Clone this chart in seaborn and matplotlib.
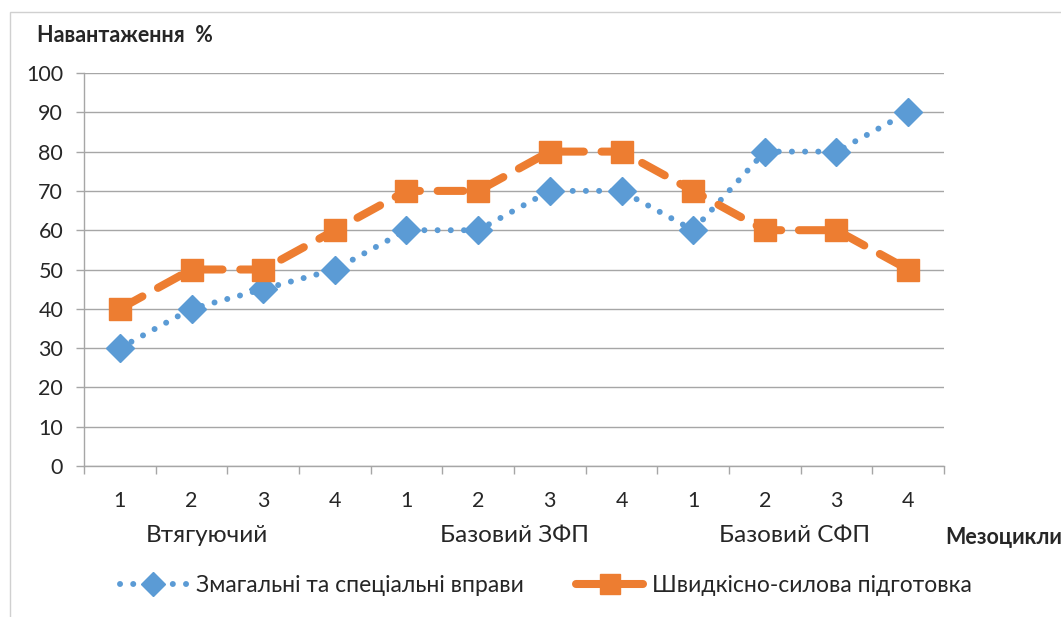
import matplotlib
matplotlib.use("Agg")
import matplotlib.pyplot as plt
import seaborn as sns
import pandas as pd
import numpy as np
from matplotlib.lines import Line2D
from matplotlib.patches import Rectangle

categories = ["1", "2", "3", "4", "1", "2", "3", "4", "1", "2", "3", "4"]
groups = ["Втягуючий", "Базовий ЗФП", "Базовий СФП"]
series_names = ["Змагальні та спеціальні вправи", "Швидкісно-силова підготовка"]
general_special = [30, 40, 45, 50, 60, 60, 70, 70, 60, 80, 80, 90]
speed_strength = [40, 50, 50, 60, 70, 70, 80, 80, 70, 60, 60, 50]
y_ticks = [0, 10, 20, 30, 40, 50, 60, 70, 80, 90, 100]

sns.set_theme(style="white")
plt.rcParams['font.family'] = ['Lato', 'DejaVu Sans']

BLUE = "#5B9BD5"
ORANGE = "#ED7D31"
GRID = "#A6A6A6"

W, H = 1061, 617
fig = plt.figure(figsize=(W / 100, H / 100), dpi=100)
ax = fig.add_axes([84 / W, (H - 466) / H, 860 / W, (466 - 73) / H])

# chart border (partly visible)
fig.patches.append(Rectangle((10 / W, -0.2), 1.2, 1.2 - 12 / H,
                             transform=fig.transFigure, fill=False,
                             edgecolor="#D0D0D0", linewidth=1.0))

x = np.arange(len(categories))
df = pd.DataFrame({"x": x, "a": general_special, "b": speed_strength})

BLUE_DASH = (0, (0.01, 2.2))
ORANGE_DASH = (0, (3.2, 2.2))

sns.lineplot(data=df, x="x", y="a", ax=ax, color=BLUE, linewidth=4.3,
             linestyle=BLUE_DASH, zorder=3)
sns.lineplot(data=df, x="x", y="b", ax=ax, color=ORANGE, linewidth=5.8,
             linestyle=ORANGE_DASH, zorder=3)
ax.lines[0].set_dash_capstyle("round")
ax.lines[1].set_dash_capstyle("round")
ax.plot(x, general_special, linestyle="none", marker="D", markersize=14,
        color=BLUE, markeredgecolor=BLUE, zorder=4)
ax.plot(x, speed_strength, linestyle="none", marker="s", markersize=16,
        color=ORANGE, markeredgecolor=ORANGE, zorder=4)

ax.set_xlim(-0.5, len(categories) - 0.5)
ax.set_ylim(0, 100)
ax.set_yticks(y_ticks)
ax.set_yticklabels([str(v) for v in y_ticks], fontsize=15.5)
ax.yaxis.grid(True, color=GRID, linewidth=1.0)
ax.set_axisbelow(True)

ax.set_xticks(np.arange(-0.5, len(categories), 1.0))
ax.set_xticklabels([])
ax.set_xticks(x, minor=True)
ax.set_xticklabels(categories, minor=True, fontsize=15.5)
ax.tick_params(axis="x", which="major", length=6, width=1, color=GRID,
               direction="out", bottom=True)
ax.tick_params(axis="x", which="minor", length=0, pad=18)
ax.tick_params(axis="y", length=6, width=1, color=GRID, direction="out",
               left=True, pad=9)
ax.set_xlabel("")
ax.set_ylabel("")

for s in ["top", "right"]:
    ax.spines[s].set_visible(False)
for s in ["left", "bottom"]:
    ax.spines[s].set_color(GRID)
    ax.spines[s].set_linewidth(1.0)

group_px = [207, 515, 795]
for g, px in zip(groups, group_px):
    fig.text(px / W, 1 - 536 / H, g, ha="center", va="center", fontsize=17.5)

fig.text(37 / W, 1 - 36 / H, "Навантаження  %", ha="left", va="center",
         fontsize=15.5, fontweight="bold")
fig.text(945 / W, 1 - 537 / H, "Мезоцикли", ha="left", va="center",
         fontsize=15.5, fontweight="bold")

handles = [
    Line2D([0], [0], color=BLUE, linewidth=4.3, linestyle=BLUE_DASH,
           dash_capstyle="round", marker="D", markersize=12),
    Line2D([0], [0], color=ORANGE, linewidth=5.8, linestyle=ORANGE_DASH,
           dash_capstyle="round", marker="s", markersize=14),
]
fig.legend(handles, series_names, loc="center", bbox_to_anchor=(546 / W, 1 - 586 / H),
           ncol=2, frameon=False, fontsize=16.5, handlelength=2.9,
           columnspacing=2.3, handletextpad=0.4)

fig.savefig("out.png", dpi=100)
